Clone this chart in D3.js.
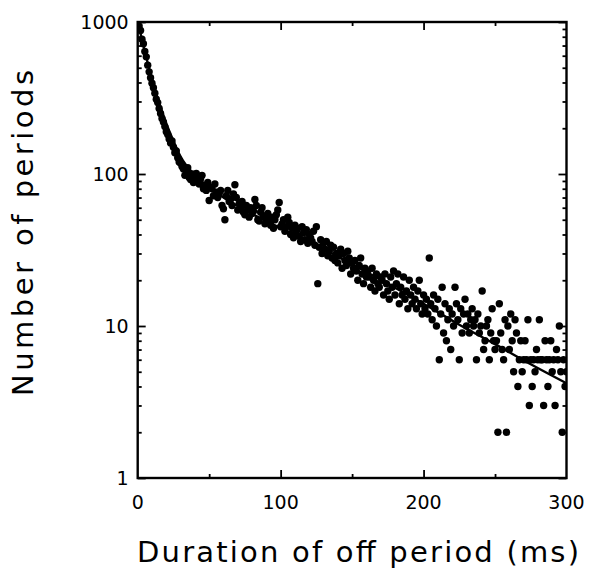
<!DOCTYPE html>
<html lang="en">
<head>
<meta charset="UTF-8">
<title>Number of periods vs duration of off period</title>
<script src="https://d3js.org/d3.v7.min.js"></script>
<style>
  body { margin: 0; background: #fff; }
  .tick-label { font-family: "DejaVu Sans", sans-serif; font-size: 19px; fill: #000; }
  .axis-title { font-family: "DejaVu Sans", sans-serif; font-size: 29px; fill: #000; }
</style>
</head>
<body>
<div id="chart"></div>
<script>
// counts per 1 ms bin, durations 1..300 ms
const counts = [
  940, 880, 770, 720, 640, 590, 520, 470, 430, 395,
  370, 340, 310, 295, 270, 250, 232, 220, 205, 190,
  182, 170, 160, 165, 150, 138, 142, 128, 120, 118,
  112, 108, 98, 104, 110, 95, 92, 100, 88, 96,
  101, 90, 86, 93, 98, 80, 84, 78, 88, 67,
  82, 80, 72, 86, 76, 70, 74, 78, 62, 59,
  50, 72, 78, 66, 68, 62, 74, 85, 70, 58,
  64, 60, 66, 56, 54, 62, 58, 52, 60, 55,
  57, 68, 62, 50, 49, 56, 60, 53, 47, 50,
  55, 48, 46, 52, 44, 50, 54, 58, 65, 45,
  47, 50, 42, 45, 52, 48, 40, 44, 38, 46,
  42, 44, 39, 36, 45, 41, 37, 43, 35, 40,
  38, 36, 42, 34, 45, 19, 33, 37, 30, 35,
  32, 36, 29, 31, 34, 28, 33, 27, 30, 26,
  29, 32, 24, 30, 27, 25, 31, 28, 22, 26,
  24, 27, 23, 20, 25, 28, 22, 19, 24, 21,
  23, 21, 18, 24, 20, 17, 22, 19, 18, 21,
  20, 16, 22, 19, 17, 15, 21, 18, 23, 16,
  19, 22, 14, 18, 16, 21, 15, 17, 13, 20,
  16, 14, 18, 15, 13, 17, 20, 14, 12, 16,
  13, 15, 12, 28, 14, 11, 16, 13, 10, 15,
  6, 12, 18, 9, 14, 8, 11, 13, 7, 12,
  10, 18, 14, 11, 6, 13, 9, 12, 15, 10,
  12, 9, 11, 13, 10, 11, 6, 12, 9, 10,
  17, 7, 8, 10, 11, 6, 9, 13, 8, 7,
  8, 2, 14, 9, 7, 6, 11, 2, 10, 7,
  12, 8, 5, 11, 9, 4, 6, 8, 5, 6,
  8, 6, 11, 3, 6, 4, 6, 5, 7, 6,
  11, 6, 6, 3, 8, 6, 4, 6, 8, 5,
  6, 3, 7, 6, 10, 5, 2, 6, 4, 5
];
const durations = d3.range(1, counts.length + 1);

// fitted curve, read at a few durations
const fitX = [0, 5, 10, 15, 20, 25, 30, 40, 50, 60, 75, 100, 125, 150, 175, 200, 225, 250, 275, 300];
const fitY = [1000, 640, 420, 295, 215, 165, 130, 98, 82, 70, 58, 44, 34, 25.5, 19, 14, 10.2, 7.6, 5.6, 4.2];

const xTicks = [0, 100, 200, 300];
const yTicks = [1, 10, 100, 1000];

const W = 589, H = 571;
const margin = { top: 22, right: 22.5, bottom: 93, left: 137.7 };
const width = W - margin.left - margin.right;
const height = H - margin.top - margin.bottom;

const svg = d3.select("#chart").append("svg")
  .attr("width", W).attr("height", H);
const g = svg.append("g").attr("transform", `translate(${margin.left},${margin.top})`);

const x = d3.scaleLinear().domain([0, 300]).range([0, width]);
const y = d3.scaleLog().domain([1, 1000]).range([height, 0]);

// clip so dots stay inside the frame
svg.append("defs").append("clipPath").attr("id", "plot")
  .append("rect").attr("width", width).attr("height", height);

const plot = g.append("g").attr("clip-path", "url(#plot)");

plot.selectAll("circle")
  .data(durations)
  .enter().append("circle")
  .attr("cx", d => x(d))
  .attr("cy", (d, i) => y(counts[i]))
  .attr("r", 3.7)
  .attr("fill", "#000");

const line = d3.line()
  .x((d, i) => x(fitX[i]))
  .y(d => y(d))
  .curve(d3.curveMonotoneX);
plot.append("path")
  .attr("d", line(fitY))
  .attr("fill", "none")
  .attr("stroke", "#000")
  .attr("stroke-width", 2.4);

// frame
g.append("rect")
  .attr("width", width).attr("height", height)
  .attr("fill", "none").attr("stroke", "#000").attr("stroke-width", 2.4);

// inward ticks on all four sides
const minorY = [];
for (let e = 0; e < 3; e++) for (let m = 2; m <= 9; m++) minorY.push(m * Math.pow(10, e));

const yAxisL = d3.axisLeft(y).tickValues(yTicks).tickSize(-8).tickFormat("");
const yAxisR = d3.axisRight(y).tickValues(yTicks).tickSize(-8).tickFormat("");
const yMinorL = d3.axisLeft(y).tickValues(minorY).tickSize(-4).tickFormat("");
const yMinorR = d3.axisRight(y).tickValues(minorY).tickSize(-4).tickFormat("");
const xAxisB = d3.axisBottom(x).tickValues([100, 200]).tickSize(-8).tickFormat("");
const xAxisT = d3.axisTop(x).tickValues([100, 200]).tickSize(-8).tickFormat("");
const xMinorB = d3.axisBottom(x).tickValues([50, 150, 250]).tickSize(-4).tickFormat("");
const xMinorT = d3.axisTop(x).tickValues([50, 150, 250]).tickSize(-4).tickFormat("");

[
  [yAxisL, null], [yMinorL, null],
  [yAxisR, `translate(${width},0)`], [yMinorR, `translate(${width},0)`],
  [xAxisB, `translate(0,${height})`], [xMinorB, `translate(0,${height})`],
  [xAxisT, null], [xMinorT, null]
].forEach(([ax, tr]) => {
  const a = g.append("g").call(ax);
  if (tr) a.attr("transform", tr);
  a.select(".domain").remove();
  a.selectAll("line").attr("stroke", "#000").attr("stroke-width", 1.8);
});

// tick labels
g.selectAll(".ylab")
  .data(yTicks)
  .enter().append("text")
  .attr("class", "tick-label")
  .attr("x", -9)
  .attr("y", d => y(d))
  .attr("dy", "0.36em")
  .attr("text-anchor", "end")
  .text(d => d);

g.selectAll(".xlab")
  .data(xTicks)
  .enter().append("text")
  .attr("class", "tick-label")
  .attr("x", d => x(d))
  .attr("y", height + 31)
  .attr("text-anchor", "middle")
  .text(d => d);

// axis titles
svg.append("text")
  .attr("class", "axis-title")
  .attr("x", 358)
  .attr("y", 562)
  .attr("text-anchor", "middle")
  .attr("textLength", 442)
  .attr("lengthAdjust", "spacing")
  .text("Duration of off period (ms)");

svg.append("text")
  .attr("class", "axis-title")
  .attr("transform", "translate(33,233) rotate(-90)")
  .attr("text-anchor", "middle")
  .attr("textLength", 326)
  .attr("lengthAdjust", "spacing")
  .text("Number of periods");
</script>
</body>
</html>
